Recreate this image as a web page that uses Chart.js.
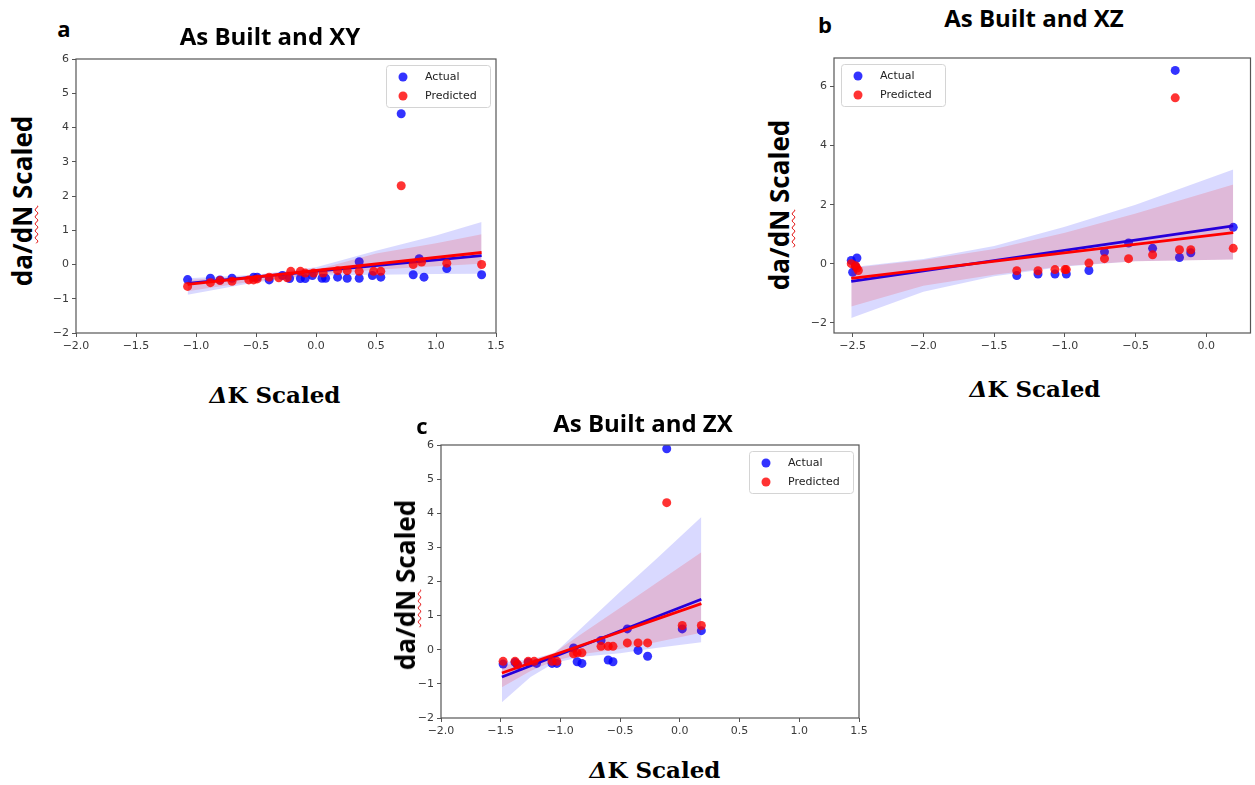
<!DOCTYPE html>
<html>
<head>
<meta charset="utf-8">
<script src="https://cdn.jsdelivr.net/npm/chart.js@4.4.1/dist/chart.umd.min.js"></script>
<style>
  body { margin: 0; background: #fff; }
  #page { position: relative; width: 1255px; height: 785px; overflow: hidden; }
  canvas { position: absolute; }
  .txt { position: absolute; white-space: nowrap; transform: translate(-50%, -50%); color: #000; }
  .letter { font: 700 22px "Open Sans"; }
  .title { font: 700 24px "Open Sans"; }
  .ylab { font: 700 26px "Open Sans"; transform: translate(-50%, -50%) rotate(-90deg); }
  .xlab { font: 700 23px "DejaVu Serif"; }
  .xlab i { font-style: italic; }
  .wavy { text-decoration: underline wavy #e00000; text-decoration-thickness: 1px; text-underline-offset: 2px; }
</style>
</head>
<body>
<div id="page">
  <canvas id="chartA" width="475" height="320" style="left:40px;top:45px"></canvas>
  <canvas id="chartB" width="457" height="320" style="left:798px;top:45px"></canvas>
  <canvas id="chartC" width="475" height="320" style="left:405px;top:430px"></canvas>

  <div class="txt letter" style="left:64px;top:28px">a</div>
  <div class="txt title" style="left:270px;top:35px">As Built and XY</div>
  <div class="txt ylab" style="left:22px;top:201px">da/<span class="wavy">dN</span> Scaled</div>
  <div class="txt xlab" style="left:275px;top:394px"><i>Δ</i>K Scaled</div>

  <div class="txt letter" style="left:825px;top:24px">b</div>
  <div class="txt title" style="left:1034px;top:17px">As Built and XZ</div>
  <div class="txt ylab" style="left:779px;top:205px">da/<span class="wavy">dN</span> Scaled</div>
  <div class="txt xlab" style="left:1035px;top:388px"><i>Δ</i>K Scaled</div>

  <div class="txt letter" style="left:422px;top:425px">c</div>
  <div class="txt title" style="left:643px;top:422px">As Built and ZX</div>
  <div class="txt ylab" style="left:405px;top:585px">da/<span class="wavy">dN</span> Scaled</div>
  <div class="txt xlab" style="left:655px;top:769px"><i>Δ</i>K Scaled</div>
</div>

<script>
// ---------- series names ----------
const seriesNames = ["Actual", "Predicted"];

// ---------- panel a : As Built and XY ----------
const aActualX = [-1.07,-0.88,-0.80,-0.70,-0.52,-0.49,-0.39,-0.28,-0.22,-0.13,-0.09,-0.03,0.05,0.08,0.18,0.26,0.36,0.36,0.47,0.54,0.71,0.81,0.86,0.90,1.09,1.38];
const aActualY = [-0.44,-0.40,-0.45,-0.40,-0.37,-0.37,-0.45,-0.32,-0.41,-0.41,-0.41,-0.32,-0.40,-0.40,-0.37,-0.40,0.08,-0.40,-0.32,-0.37,4.40,-0.30,0.17,-0.37,-0.12,-0.30];
const aPredX = [-1.07,-0.88,-0.80,-0.70,-0.56,-0.52,-0.49,-0.39,-0.31,-0.24,-0.21,-0.13,-0.09,-0.02,0.06,0.18,0.26,0.36,0.48,0.54,0.71,0.81,0.88,1.09,1.38];
const aPredY = [-0.64,-0.53,-0.47,-0.49,-0.45,-0.45,-0.42,-0.37,-0.39,-0.39,-0.20,-0.20,-0.25,-0.25,-0.25,-0.18,-0.18,-0.20,-0.20,-0.20,2.30,0.00,0.07,0.04,0.00];
const aLineX = [-1.07, 1.38];
const aActualLine = [-0.55, 0.26];
const aPredLine = [-0.58, 0.35];
const aBandX = [-1.07,-0.5,0,0.5,1.0,1.38];
const aActualLo = [-0.88,-0.52,-0.32,-0.30,-0.28,-0.27];
const aActualHi = [-0.40,-0.30,-0.08,0.40,0.85,1.24];
const aPredLo = [-0.78,-0.48,-0.30,-0.15,-0.05,0.02];
const aPredHi = [-0.45,-0.32,-0.15,0.32,0.62,0.88];
const aXTicks = [-2.0,-1.5,-1.0,-0.5,0.0,0.5,1.0,1.5];
const aYTicks = [-2,-1,0,1,2,3,4,5,6];

// ---------- panel b : As Built and XZ ----------
const bActualX = [-2.51,-2.47,-2.50,-2.48,-1.34,-1.19,-1.07,-0.99,-0.83,-0.72,-0.55,-0.38,-0.22,-0.19,-0.11,0.19];
const bActualY = [0.11,0.19,-0.29,-0.09,-0.40,-0.35,-0.35,-0.35,-0.23,0.40,0.70,0.52,6.55,0.21,0.37,1.23];
const bPredX = [-2.51,-2.48,-2.47,-2.46,-1.34,-1.19,-1.07,-1.00,-0.99,-0.83,-0.72,-0.55,-0.38,-0.22,-0.19,-0.11,0.19];
const bPredY = [0.00,-0.07,-0.15,-0.23,-0.24,-0.24,-0.20,-0.20,-0.20,0.02,0.17,0.17,0.30,5.62,0.47,0.47,0.52];
const bLineX = [-2.51, 0.19];
const bActualLine = [-0.60, 1.28];
const bPredLine = [-0.50, 1.05];
const bBandX = [-2.51,-2.0,-1.5,-1.0,-0.5,0.19];
const bActualLo = [-1.84,-0.95,-0.43,-0.10,0.08,0.14];
const bActualHi = [-0.12,0.16,0.60,1.25,2.00,3.19];
const bPredLo = [-1.45,-0.75,-0.38,-0.08,0.08,0.14];
const bPredHi = [-0.15,0.12,0.50,1.05,1.70,2.68];
const bXTicks = [-2.5,-2.0,-1.5,-1.0,-0.5,0.0];
const bYTicks = [-2,0,2,4,6];

// ---------- panel c : As Built and ZX ----------
const cActualX = [-1.48,-1.38,-1.36,-1.27,-1.20,-1.07,-1.03,-0.89,-0.86,-0.82,-0.66,-0.60,-0.56,-0.44,-0.35,-0.27,-0.11,0.02,0.18];
const cActualY = [-0.42,-0.37,-0.45,-0.37,-0.40,-0.40,-0.40,0.05,-0.35,-0.40,0.27,-0.30,-0.35,0.61,-0.02,-0.19,5.89,0.61,0.56];
const cPredX = [-1.48,-1.38,-1.36,-1.27,-1.22,-1.07,-1.03,-0.89,-0.86,-0.82,-0.66,-0.60,-0.56,-0.44,-0.35,-0.27,-0.11,0.02,0.18];
const cPredY = [-0.34,-0.34,-0.42,-0.34,-0.34,-0.34,-0.34,-0.12,-0.09,-0.09,0.10,0.10,0.10,0.20,0.20,0.20,4.31,0.71,0.71];
const cLineX = [-1.49, 0.18];
const cActualLine = [-0.80, 1.48];
const cPredLine = [-0.68, 1.35];
const cBandX = [-1.49,-1.25,-1.05,-0.8,-0.5,-0.2,0.18];
const cActualLo = [-1.54,-0.80,-0.38,-0.20,-0.10,0.05,0.22];
const cActualHi = [-0.37,-0.28,-0.10,0.72,1.70,2.65,3.89];
const cPredLo = [-1.10,-0.62,-0.32,-0.12,0.02,0.22,0.50];
const cPredHi = [-0.46,-0.32,-0.08,0.52,1.23,1.95,2.86];
const cXTicks = [-2.0,-1.5,-1.0,-0.5,0.0,0.5,1.0,1.5];
const cYTicks = [-2,-1,0,1,2,3,4,5,6];

// ---------- styles ----------
const BLUE = "#0000ff", RED = "#ff0000";
const BLUE_PT = "rgba(0,0,255,0.8)", RED_PT = "rgba(255,0,0,0.8)";
const BLUE_BAND = "rgba(0,0,255,0.15)", RED_BAND = "rgba(255,0,0,0.15)";

const pts = (xs, ys) => xs.map((x, i) => ({ x, y: ys[i] }));
const minus = (s) => s.replace("-", "\u2212");

// frame (all four spines) drawn over the plot
const frame = {
  id: "frame",
  afterDatasetsDraw(chart) {
    const { ctx, chartArea: ca } = chart;
    ctx.save();
    ctx.strokeStyle = "#555";
    ctx.lineWidth = 1.2;
    ctx.strokeRect(ca.left, ca.top, ca.width, ca.height);
    ctx.restore();
  }
};

// matplotlib-like legend inside the axes
const inLegend = {
  id: "inLegend",
  afterDraw(chart, args, opts) {
    const { ctx, chartArea: ca } = chart;
    const w = 104, h = 42;
    const x0 = opts.side === "left" ? ca.left + 7 : ca.right - 6 - w;
    const y0 = ca.top + 6;
    ctx.save();
    ctx.beginPath();
    ctx.roundRect(x0 + 0.5, y0 + 0.5, w, h, 3);
    ctx.fillStyle = "rgba(255,255,255,0.85)";
    ctx.fill();
    ctx.strokeStyle = "#d4d4d4";
    ctx.lineWidth = 1;
    ctx.stroke();
    ctx.font = '11px "DejaVu Sans"';
    ctx.textBaseline = "middle";
    [BLUE_PT, RED_PT].forEach((c, i) => {
      const cy = y0 + 12 + i * 19;
      ctx.beginPath();
      ctx.arc(x0 + 17, cy, 4.5, 0, Math.PI * 2);
      ctx.fillStyle = c;
      ctx.fill();
      ctx.fillStyle = "#222";
      ctx.fillText(seriesNames[i], x0 + 39, cy);
    });
    ctx.restore();
  }
};

function makePanel(id, p) {
  const datasets = [
    // red on top
    { type: "line", data: pts(p.bandX, p.predHi), borderWidth: 0, pointRadius: 0, backgroundColor: RED_BAND, fill: "+1", order: 1 },
    { type: "line", data: pts(p.bandX, p.predLo), borderWidth: 0, pointRadius: 0, fill: false, order: 1 },
    { type: "line", data: pts(p.lineX, p.predLine), borderColor: RED, borderWidth: 2.8, pointRadius: 0, fill: false, order: 2 },
    { type: "scatter", label: seriesNames[1], data: pts(p.predX, p.predY), backgroundColor: RED_PT, pointRadius: 4.5, pointBorderWidth: 0, order: 3 },
    { type: "line", data: pts(p.bandX, p.actualHi), borderWidth: 0, pointRadius: 0, backgroundColor: BLUE_BAND, fill: "+1", order: 4 },
    { type: "line", data: pts(p.bandX, p.actualLo), borderWidth: 0, pointRadius: 0, fill: false, order: 4 },
    { type: "line", data: pts(p.lineX, p.actualLine), borderColor: BLUE, borderWidth: 2.8, pointRadius: 0, fill: false, order: 5 },
    { type: "scatter", label: seriesNames[0], data: pts(p.actualX, p.actualY), backgroundColor: BLUE_PT, pointRadius: 4.5, pointBorderWidth: 0, order: 6 }
  ];
  const tickFont = { family: "DejaVu Sans", size: 11 };
  return new Chart(document.getElementById(id), {
    type: "scatter",
    data: { datasets },
    options: {
      responsive: false,
      animation: false,
      layout: { padding: { left: 0, top: p.padTop, right: p.padRight, bottom: 0 } },
      plugins: { legend: { display: false }, tooltip: { enabled: false }, inLegend: { side: p.legendSide } },
      scales: {
        x: {
          type: "linear", min: p.xMin, max: p.xMax,
          afterFit: (s) => { s.height = p.xH; },
          afterBuildTicks: (s) => { s.ticks = p.xTicks.map(v => ({ value: v })); },
          ticks: { font: tickFont, color: "#3a3a3a", padding: 3, maxRotation: 0, autoSkip: false, callback: (v) => minus(Number(v).toFixed(1)) },
          grid: { drawOnChartArea: false, tickLength: 4, color: "#555" },
          border: { display: false }
        },
        y: {
          type: "linear", min: p.yMin, max: p.yMax,
          afterFit: (s) => { s.width = p.yW; },
          afterBuildTicks: (s) => { s.ticks = p.yTicks.map(v => ({ value: v })); },
          ticks: { font: tickFont, color: "#3a3a3a", padding: 3, autoSkip: false, callback: (v) => minus(String(v)) },
          grid: { drawOnChartArea: false, tickLength: 4, color: "#555" },
          border: { display: false }
        }
      }
    },
    plugins: [frame, inLegend]
  });
}

makePanel("chartA", {
  actualX: aActualX, actualY: aActualY, predX: aPredX, predY: aPredY,
  lineX: aLineX, actualLine: aActualLine, predLine: aPredLine,
  bandX: aBandX, actualLo: aActualLo, actualHi: aActualHi, predLo: aPredLo, predHi: aPredHi,
  xTicks: aXTicks, yTicks: aYTicks, xMin: -2.0, xMax: 1.5, yMin: -2, yMax: 6,
  padTop: 14, padRight: 19, yW: 36, xH: 32, legendSide: "right"
});

makePanel("chartB", {
  actualX: bActualX, actualY: bActualY, predX: bPredX, predY: bPredY,
  lineX: bLineX, actualLine: bActualLine, predLine: bPredLine,
  bandX: bBandX, actualLo: bActualLo, actualHi: bActualHi, predLo: bPredLo, predHi: bPredHi,
  xTicks: bXTicks, yTicks: bYTicks, xMin: -2.632, xMax: 0.312, yMin: -2.35, yMax: 6.97,
  padTop: 13, padRight: 3, yW: 36, xH: 32, legendSide: "left"
});

makePanel("chartC", {
  actualX: cActualX, actualY: cActualY, predX: cPredX, predY: cPredY,
  lineX: cLineX, actualLine: cActualLine, predLine: cPredLine,
  bandX: cBandX, actualLo: cActualLo, actualHi: cActualHi, predLo: cPredLo, predHi: cPredHi,
  xTicks: cXTicks, yTicks: cYTicks, xMin: -2.0, xMax: 1.5, yMin: -2, yMax: 6,
  padTop: 15, padRight: 21, yW: 36, xH: 32, legendSide: "right"
});
</script>
</body>
</html>
